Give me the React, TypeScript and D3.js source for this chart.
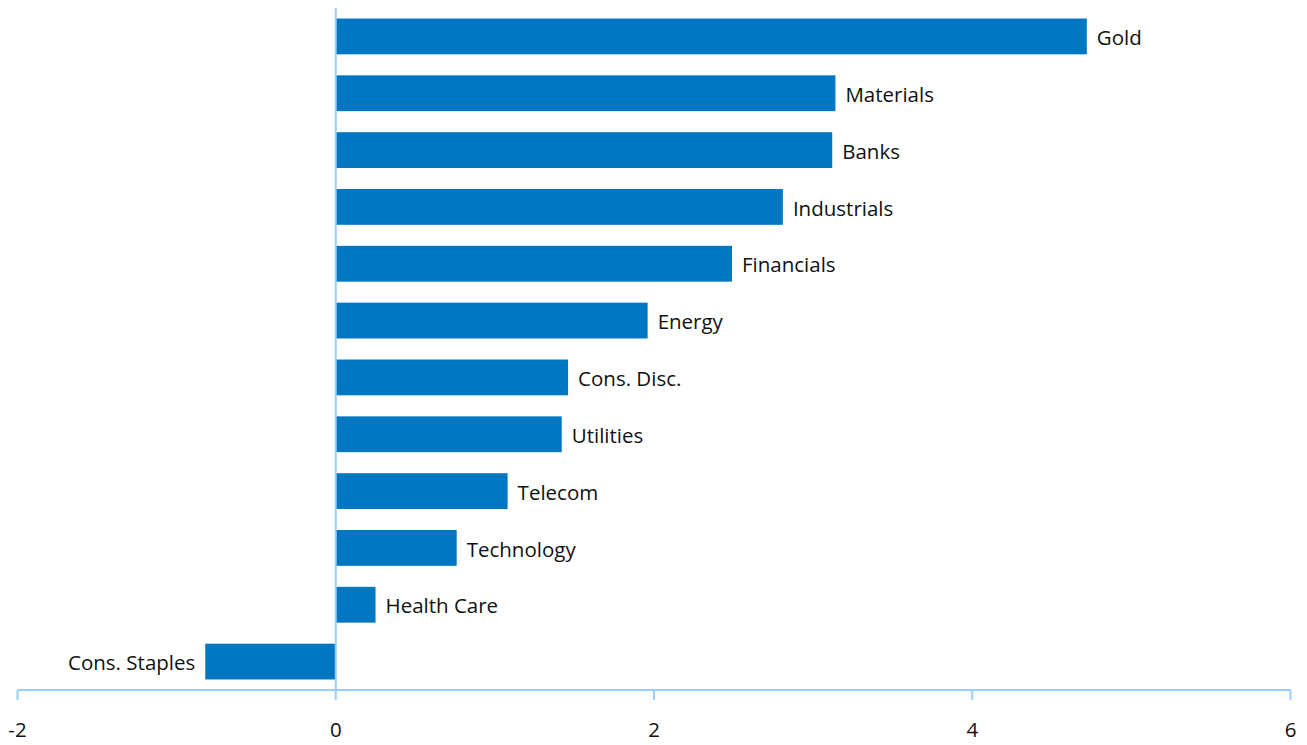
import React from "react";
import * as d3 from "d3";

const categories = ["Gold", "Materials", "Banks", "Industrials", "Financials", "Energy", "Cons. Disc.", "Utilities", "Telecom", "Technology", "Health Care", "Cons. Staples"];
const values = [4.72, 3.14, 3.12, 2.81, 2.49, 1.96, 1.46, 1.42, 1.08, 0.76, 0.25, -0.82];
const xTicks = [-2, 0, 2, 4, 6];

const W = 1307, H = 745;
const FONT = "'Open Sans', 'Noto Sans', sans-serif";

export default function App() {
  const x = d3.scaleLinear().domain([-2, 6]).range([17.5, 1290.5]);
  const y = d3.scaleBand<string>().domain(categories).range([8, 690]).paddingInner(0.37).paddingOuter(0.185);
  const axisY = 690;
  const axisColor = "#99CCFF";
  return (
    <svg width={W} height={H} style={{ position: "absolute", left: 0, top: 0 }}>
      <rect width={W} height={H} fill="#fff" />
      {categories.map((c, i) => {
        const v = values[i];
        const x0 = x(Math.min(0, v));
        const x1 = x(Math.max(0, v));
        const yy = y(c)!;
        const bw = y.bandwidth();
        return (
          <g key={c}>
            <rect x={x0} y={yy} width={x1 - x0} height={bw} fill="#0077C0" />
            <text
              x={v >= 0 ? x1 + 10 : x0 - 10}
              y={yy + bw / 2 + 1.5}
              dy="0.35em"
              textAnchor={v >= 0 ? "start" : "end"}
              fontFamily={FONT}
              fontSize={20.5}
              fill="#111"
            >
              {c}
            </text>
          </g>
        );
      })}
      <line x1={x(0)} x2={x(0)} y1={8} y2={axisY} stroke={axisColor} strokeWidth={2} />
      <line x1={x(-2)} x2={x(6)} y1={axisY} y2={axisY} stroke={axisColor} strokeWidth={2} />
      {xTicks.map((t) => (
        <g key={t}>
          <line x1={x(t)} x2={x(t)} y1={axisY} y2={axisY + 10} stroke={axisColor} strokeWidth={2} />
          <text x={x(t)} y={730} dy="0.35em" textAnchor="middle" fontFamily={FONT} fontSize={20.5} fill="#111">
            {t}
          </text>
        </g>
      ))}
    </svg>
  );
}
